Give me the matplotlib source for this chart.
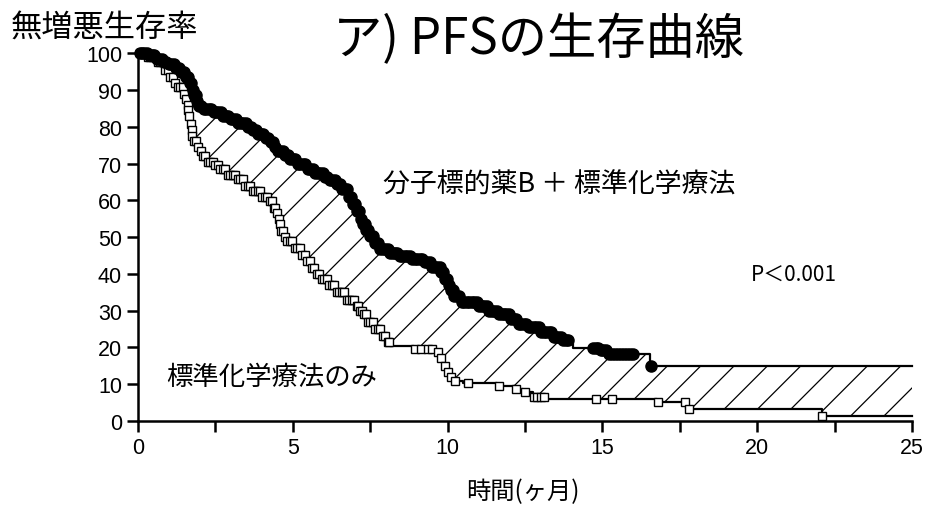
import numpy as np
import matplotlib
matplotlib.use("Agg")
import matplotlib.pyplot as plt

plt.rcParams['font.family'] = ['Noto Sans CJK JP', 'DejaVu Sans']
plt.rcParams['hatch.linewidth'] = 0.9

# Kaplan-Meier steps: (months, % progression-free)
t_drug = [0, 0.3, 0.6, 0.8, 1.0, 1.2, 1.4, 1.55, 1.65, 1.75, 1.82, 1.9, 1.95, 2.1,
          2.4, 2.7, 2.95, 3.2, 3.5, 3.7, 3.85, 4.05, 4.25, 4.4, 4.5, 4.7, 4.9,
          5.15, 5.45, 5.7, 6.0, 6.2, 6.4, 6.6, 6.75, 6.9, 7.05, 7.15, 7.25, 7.35,
          7.45, 7.6, 7.8, 8.1, 8.45, 8.8, 9.2, 9.5, 9.75, 9.9, 10.0, 10.1, 10.2,
          10.45, 10.95, 11.3, 11.6, 12.0, 12.3, 12.55, 13.0, 13.4, 13.7, 13.95,
          14.05, 14.9, 15.15, 16.55]
s_drug = [100, 99.5, 98.5, 97.5, 97, 96, 95, 93.5, 92, 90, 88.5, 87, 85.6, 84.8,
          84, 83, 82, 81, 80, 79, 78, 77, 75.8, 74.5, 73.4, 72.3, 71.2,
          70, 68.5, 67.5, 66.3, 65.5, 64.4, 63, 61, 59, 57, 55, 53.5, 51.8,
          50.3, 48.5, 46.7, 45.7, 44.8, 44, 43.2, 42, 40.5, 38.5, 37, 35.5, 34,
          32.3, 31.3, 30, 29, 27.7, 26.5, 25.5, 24.2, 22.8, 22, 21.5,
          19.8, 19.2, 18.2, 15]

t_chemo = [0, 0.3, 0.6, 0.85, 1.03, 1.15, 1.26, 1.45, 1.52, 1.58, 1.61, 1.64, 1.68,
           1.72, 1.75, 1.78, 1.9, 2.0, 2.1, 2.23, 2.45, 2.65, 2.9, 3.2, 3.45, 3.7,
           4.0, 4.25, 4.35, 4.45, 4.52, 4.56, 4.6, 4.7, 4.8, 5.0, 5.25, 5.4, 5.6,
           5.75, 5.9, 6.15, 6.4, 6.7, 7.05, 7.15, 7.25, 7.4, 7.6, 7.9, 8.05, 8.15,
           8.9, 9.65, 9.75, 9.85, 9.98, 10.1, 10.2, 10.5, 11.6, 12.2, 12.45, 12.75,
           13.2, 16.75, 17.7, 22.1]
s_chemo = [100, 99, 97.5, 95.5, 93.5, 92, 90.8, 89, 87.5, 86, 84.5, 83, 80.7,
           79, 77.5, 76, 74.5, 73.4, 72, 70.4, 69.5, 68.5, 67, 65.8, 64, 62.5,
           61, 59.8, 58, 56.5, 55, 53.5, 51.6, 50, 48.9, 47, 45, 43.5, 41.5,
           40, 38.6, 37, 35, 33, 31.3, 30, 29, 26.9, 25, 23.1, 21.5, 20.4,
           19.6, 18.8, 17, 15, 13.3, 12, 10.9, 10.3, 9.5, 8.8, 7.9, 6.5,
           6.0, 5.1, 3.3, 1.4]

# censored observations
cens_drug = [0.05, 0.12, 0.2, 0.28, 0.36, 0.44, 0.52, 0.6, 0.68, 0.76, 0.84, 0.92,
             1.0, 1.08, 1.16, 1.24, 1.32, 1.4, 1.48, 1.56, 1.62, 1.68, 1.72, 1.78,
             1.82, 1.88, 1.92, 1.98, 2.04, 2.12, 2.2, 2.28, 2.36, 2.44, 2.52, 2.6,
             2.68, 2.76, 2.84, 2.92, 3.0, 3.08, 3.16, 3.24, 3.32, 3.4, 3.48, 3.56,
             3.64, 3.72, 3.8, 3.88, 3.96, 4.04, 4.12, 4.2, 4.28, 4.36, 4.44, 4.52,
             4.6, 4.68, 4.76, 4.84, 4.92, 5.0, 5.08, 5.16, 5.24, 5.32, 5.4, 5.48,
             5.56, 5.64, 5.72, 5.8, 5.88, 5.96, 6.04, 6.12, 6.2, 6.28, 6.36, 6.44,
             6.52, 6.6, 6.68, 6.74, 6.8, 6.88, 6.96, 7.02, 7.08, 7.14, 7.2, 7.26,
             7.32, 7.38, 7.44, 7.5, 7.58, 7.66, 7.74, 7.82, 7.9, 7.98, 8.06, 8.14,
             8.22, 8.3, 8.38, 8.46, 8.54, 8.62, 8.7, 8.78, 8.86, 8.94, 9.02, 9.1,
             9.18, 9.26, 9.34, 9.42, 9.5, 9.58, 9.66, 9.74, 9.8, 9.86, 9.92, 9.98,
             10.04, 10.1, 10.16, 10.22, 10.3, 10.38, 10.46, 10.54, 10.62, 10.7,
             10.78, 10.86, 10.94, 11.02, 11.1, 11.18, 11.26, 11.34, 11.42, 11.5,
             11.58, 11.66, 11.74, 11.82, 11.9, 11.98, 12.06, 12.14, 12.22, 12.3,
             12.38, 12.46, 12.54, 12.62, 12.7, 12.78, 12.86, 12.94, 13.02, 13.1,
             13.18, 13.26, 13.34, 13.42, 13.5, 13.58, 13.66, 13.74, 13.82, 13.9,
             14.7, 14.78, 14.86, 14.94, 15.02, 15.1, 15.2, 15.3, 15.4, 15.5, 15.6,
             15.7, 15.8, 15.9, 16.0, 16.58]
cens_chemo = [0.08, 0.16, 0.24, 0.32, 0.4, 0.48, 0.56, 0.64, 0.72, 0.8, 0.88, 0.96,
              1.04, 1.12, 1.2, 1.28, 1.36, 1.44, 1.5, 1.55, 1.6, 1.63, 1.66, 1.7,
              1.73, 1.76, 1.8, 1.86, 1.94, 2.02, 2.1, 2.18, 2.26, 2.34, 2.42, 2.5,
              2.58, 2.66, 2.74, 2.82, 2.9, 2.98, 3.06, 3.14, 3.22, 3.3, 3.38, 3.46,
              3.54, 3.62, 3.7, 3.78, 3.86, 3.94, 4.02, 4.1, 4.18, 4.26, 4.32, 4.38,
              4.44, 4.5, 4.54, 4.58, 4.62, 4.68, 4.74, 4.82, 4.9, 4.98, 5.06, 5.14,
              5.22, 5.3, 5.38, 5.46, 5.54, 5.62, 5.7, 5.78, 5.86, 5.94, 6.02, 6.1,
              6.18, 6.26, 6.34, 6.42, 6.5, 6.58, 6.66, 6.74, 6.82, 6.9, 6.98, 7.06,
              7.12, 7.18, 7.24, 7.3, 7.36, 7.42, 7.5, 7.58, 7.66, 7.74, 7.82, 7.9,
              7.98, 8.06, 8.12, 8.95, 9.15, 9.35, 9.5, 9.7, 9.8, 9.9, 10.0, 10.1,
              10.25, 10.65, 11.65, 12.2, 12.5, 12.8, 12.9, 13.0, 13.1, 14.8, 15.3,
              16.8, 17.65, 17.8, 22.1]

t_end = 25
x_ticks = [0, 5, 10, 15, 20, 25]
y_ticks = list(range(0, 101, 10))


def step_value(t, s, x):
    idx = np.searchsorted(t, x, side='right') - 1
    return np.asarray(s)[idx]


fig = plt.figure(figsize=(9.26, 5.06), dpi=100)
ax = fig.add_axes([0.149, 0.166, 0.836, 0.727])

# hatched gap between the two curves
grid = np.unique(np.concatenate([t_drug, t_chemo, [t_end]]))
upper = step_value(t_drug, s_drug, grid)
lower = step_value(t_chemo, s_chemo, grid)
ax.fill_between(grid, lower, upper, step='post', facecolor='none',
                edgecolor='black', hatch='/', linewidth=0)

for t, s, cens, mk, fc, ms in [
        (t_chemo, s_chemo, cens_chemo, 's', 'white', 6),
        (t_drug, s_drug, cens_drug, 'o', 'black', 8)]:
    tx = list(t) + [t_end]
    sy = list(s) + [s[-1]]
    ax.plot(tx, sy, drawstyle='steps-post', color='black', lw=1.6, clip_on=False)
    ax.plot(cens, step_value(t, s, cens), ls='none', marker=mk, ms=ms,
            mfc=fc, mec='black', mew=1.0, clip_on=False)

ax.set_xlim(0, 25)
ax.set_ylim(0, 100)
ax.set_xticks(x_ticks)
ax.set_xticks(np.arange(2.5, 25, 5), minor=True)
ax.set_yticks(y_ticks)
for side in ['top', 'right']:
    ax.spines[side].set_visible(False)
for side in ['left', 'bottom']:
    ax.spines[side].set_linewidth(1.8)
ax.tick_params(which='both', direction='out', length=8, width=1.8,
               labelsize=15.5, labelfontfamily='Liberation Sans')

fig.text(0.565, 0.028, '時間(ヶ月)', fontsize=17.5, va='center', ha='center')
fig.text(0.011, 0.945, '無増悪生存率', fontsize=22.5, va='center', ha='left')
fig.text(0.581, 0.92, 'ア) PFSの生存曲線', fontsize=35.5, va='center', ha='center')

ax.text(7.9, 64.4, '分子標的薬B ＋ 標準化学療法', fontsize=19.4, va='center')
ax.text(0.9, 12.2, '標準化学療法のみ', fontsize=19, va='center')
ax.text(19.8, 40, 'P＜0.001', fontsize=15, va='center')

fig.savefig('out.png', dpi=100)
